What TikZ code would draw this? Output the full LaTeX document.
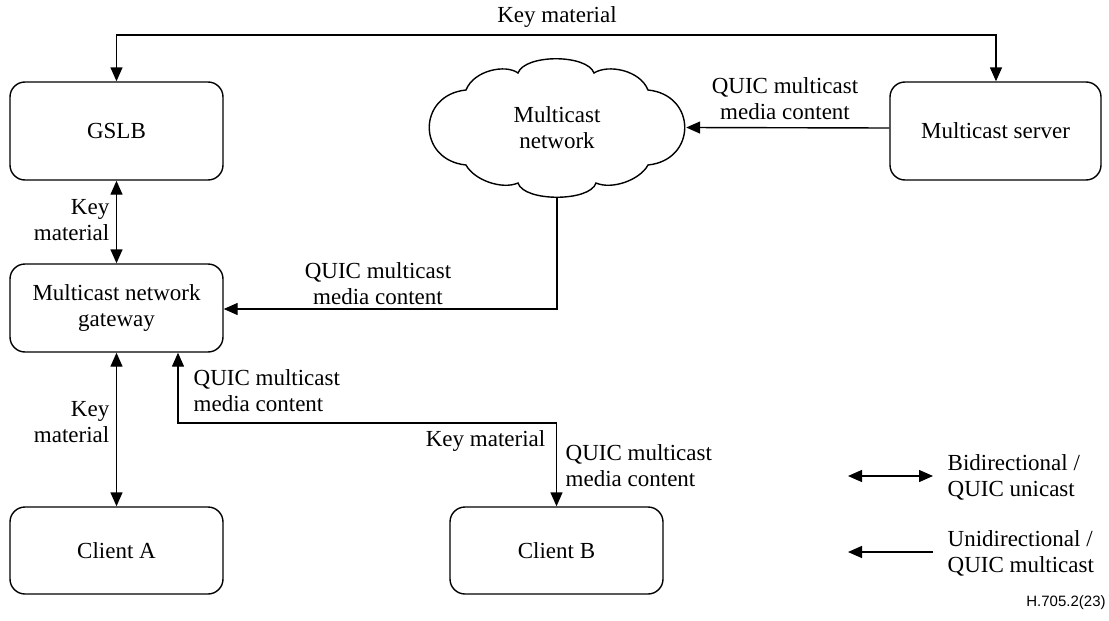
\documentclass[tikz,border=0pt]{standalone}
\usepackage{fontspec}
\setmainfont{Liberation Serif}
\newfontfamily\figsans{Liberation Sans}
\usetikzlibrary{arrows.meta}

\begin{document}
\begin{tikzpicture}[x=0.5pt,y=-0.5pt,
  font=\fontsize{11.5}{13}\selectfont,
  line width=0.7pt,
  tip/.tip={Triangle[length=7pt,width=6pt]},
  box/.style={draw, rounded corners=7.5pt, align=center, inner sep=0pt},
  oneway/.style={-tip},
  twoway/.style={tip-tip},
  lbl/.style={align=center, inner sep=0pt},
  lbll/.style={align=left, inner sep=0pt},
  lblr/.style={align=right, inner sep=0pt, anchor=east},
]
\useasboundingbox (0,0) rectangle (1109,621);

% entities
\node[box, minimum width=106.5pt, minimum height=49pt] (gslb) at (116.5,131) {GSLB};
\node[box, minimum width=105.5pt, minimum height=49pt] (server) at (995.5,131) {Multicast server};
\node[box, minimum width=106.5pt, minimum height=44pt] (gw) at (116.5,308) {Multicast network\\gateway};
\node[box, minimum width=106.5pt, minimum height=43.5pt] (ca) at (116.5,550.5) {Client A};
\node[box, minimum width=106.5pt, minimum height=43.5pt] (cb) at (556.5,550.5) {Client B};

% cloud outline: eight puffs
\draw (518,73)
  .. controls (525,54) and (587,54) .. (594,73)
  .. controls (608,64) and (640,70) .. (648,90)
  .. controls (697,95) and (697,160) .. (648,165)
  .. controls (640,180) and (612,190) .. (596,183)
  .. controls (590,202) and (524,202) .. (518,183)
  .. controls (502,190) and (474,180) .. (466,165)
  .. controls (417,160) and (417,95) .. (466,90)
  .. controls (474,70) and (506,64) .. (518,73) -- cycle;
\node[lbl, minimum width=128.5pt, minimum height=69.5pt] (cloud) at (557,127.5) {Multicast\\network};

% key material between GSLB and server
\coordinate (kl) at (116.5,35);
\coordinate (kr) at (996,35);
\draw[oneway] (kl) -- (kr) -- (server.north -| kr);
\draw[oneway] (kr) -- (kl) -- (gslb.north);
\node[lbl] (kmtop) at (557,17) {Key material};

% server to cloud
\draw[oneway] (server.west |- 0,128) -- (cloud.east);
\node[lbl] (qs) at (785,99) {QUIC multicast\\media content};

% GSLB to gateway
\draw[twoway] (gslb.south) -- (gw.north);
\node[lblr] (k1) at (110,220) {Key\\material};

% cloud to gateway
\coordinate (cb1) at (557,309);
\draw[oneway] (cloud.south) -- (cb1) -- (gw.east |- cb1);
\node[lbl] (qc) at (378,284) {QUIC multicast\\media content};

% gateway to client A
\draw[twoway] (gw.south) -- (ca.north);
\node[lblr] (k2) at (110,422) {Key\\material};

% gateway to client B
\coordinate (g1) at (178,423);
\coordinate (g2) at (556.5,423);
\draw[twoway] (gw.south -| g1) -- (g1) -- (g2) -- (cb.north);
\node[lbll, anchor=west] (qb1) at (193,391) {QUIC multicast\\media content};
\node[lbl, anchor=east] (kb) at (546,441) {Key material};
\node[lbll, anchor=west] (qb2) at (565,466) {QUIC multicast\\media content};

% legend
\coordinate (l1a) at (848,476);
\coordinate (l1b) at (933,476);
\coordinate (l2a) at (848,552);
\coordinate (l2b) at (933,552);
\draw[twoway] (l1a) -- (l1b);
\draw[oneway] (l2b) -- (l2a);
\node[lbll, anchor=west] (lg1) at (947,477) {Bidirectional /\\QUIC unicast};
\node[lbll, anchor=west] (lg2) at (947,553) {Unidirectional /\\QUIC multicast};

\node[inner sep=0pt, font=\figsans\fontsize{7.5}{9}\selectfont] (ref) at (1066,603) {H.705.2(23)};
\end{tikzpicture}
\end{document}
